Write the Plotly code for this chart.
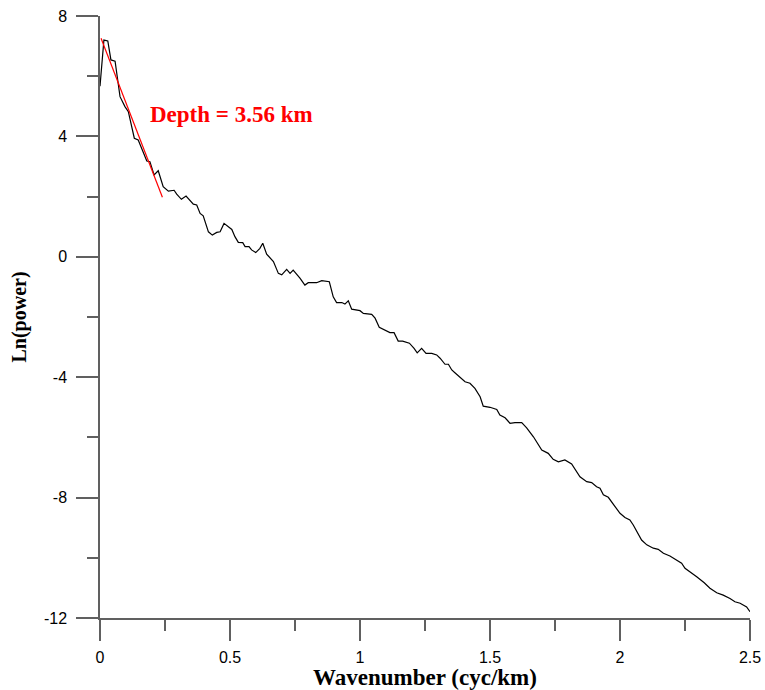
import plotly.graph_objects as go

wavenumber = [0.000, 0.015, 0.030, 0.042, 0.058, 0.070, 0.077, 0.096, 0.109, 0.132,
              0.147, 0.180, 0.192, 0.208, 0.224, 0.243, 0.263, 0.285, 0.295, 0.313,
              0.331, 0.359, 0.372, 0.385, 0.397, 0.417, 0.432, 0.449, 0.462, 0.477,
              0.507, 0.519, 0.532, 0.549, 0.558, 0.573, 0.583, 0.599, 0.615, 0.626,
              0.641, 0.667, 0.686, 0.699, 0.718, 0.731, 0.743, 0.769, 0.788, 0.801,
              0.833, 0.853, 0.882, 0.897, 0.910, 0.930, 0.942, 0.955, 0.968, 1.000,
              1.013, 1.045, 1.058, 1.074, 1.103, 1.115, 1.131, 1.147, 1.164, 1.190,
              1.208, 1.220, 1.237, 1.254, 1.276, 1.295, 1.308, 1.327, 1.340, 1.353,
              1.365, 1.385, 1.404, 1.423, 1.442, 1.462, 1.474, 1.500, 1.526, 1.538,
              1.558, 1.577, 1.596, 1.622, 1.641, 1.667, 1.699, 1.724, 1.743, 1.763,
              1.788, 1.814, 1.846, 1.872, 1.891, 1.910, 1.923, 1.936, 1.955, 1.981,
              2.000, 2.019, 2.038, 2.051, 2.064, 2.083, 2.103, 2.128, 2.147, 2.167,
              2.192, 2.218, 2.237, 2.250, 2.269, 2.295, 2.324, 2.346, 2.372, 2.397,
              2.423, 2.442, 2.462, 2.487, 2.500]

ln_power = [5.67, 7.20, 7.17, 6.54, 6.50, 5.65, 5.32, 4.99, 4.82, 3.94,
            3.88, 3.18, 3.16, 2.72, 2.86, 2.33, 2.18, 2.21, 2.08, 1.91,
            2.02, 1.75, 1.72, 1.44, 1.36, 0.83, 0.72, 0.81, 0.83, 1.11,
            0.91, 0.67, 0.48, 0.47, 0.34, 0.34, 0.23, 0.14, 0.28, 0.45,
            0.09, -0.16, -0.55, -0.60, -0.42, -0.55, -0.44, -0.71, -0.94, -0.86,
            -0.86, -0.79, -0.83, -1.33, -1.52, -1.52, -1.57, -1.46, -1.74, -1.79,
            -1.88, -1.91, -2.04, -2.34, -2.45, -2.52, -2.52, -2.80, -2.80, -2.87,
            -3.04, -3.19, -3.04, -3.21, -3.21, -3.26, -3.37, -3.57, -3.57, -3.76,
            -3.85, -4.02, -4.15, -4.20, -4.37, -4.65, -4.96, -5.00, -5.07, -5.26,
            -5.35, -5.53, -5.51, -5.51, -5.68, -5.98, -6.42, -6.53, -6.73, -6.81,
            -6.75, -6.88, -7.31, -7.47, -7.50, -7.64, -7.69, -7.91, -7.99, -8.30,
            -8.52, -8.66, -8.74, -8.91, -9.13, -9.41, -9.57, -9.68, -9.72, -9.85,
            -9.94, -10.07, -10.18, -10.35, -10.46, -10.63, -10.83, -11.01, -11.16, -11.24,
            -11.35, -11.46, -11.51, -11.63, -11.79]

fit_x = [0.004, 0.240]
fit_y = [7.26, 1.98]

depth_label = "Depth = 3.56 km"
x_title = "Wavenumber (cyc/km)"
y_title = "Ln(power)"
x_tickvals = [0, 0.5, 1, 1.5, 2, 2.5]
x_ticktext = ["0", "0.5", "1", "1.5", "2", "2.5"]
y_tickvals = [8, 4, 0, -4, -8, -12]
y_ticktext = ["8", "4", "0", "-4", "-8", "-12"]

axis_color = "#606060"
serif = "Liberation Serif, Times New Roman, serif"
sans = "Liberation Sans, Arial, sans-serif"

fig = go.Figure()
fig.add_trace(go.Scatter(x=wavenumber, y=ln_power, mode="lines",
                         line=dict(color="black", width=1.2), showlegend=False))
fig.add_trace(go.Scatter(x=fit_x, y=fit_y, mode="lines",
                         line=dict(color="red", width=1.2), showlegend=False))

fig.add_annotation(x=0.185, y=4.74, xref="x", yref="y", text="<b>" + depth_label + "</b>",
                   showarrow=False, xanchor="left", yanchor="middle",
                   font=dict(family=serif, size=23, color="red"))

fig.update_xaxes(range=[0, 2.5], tickmode="array", tickvals=x_tickvals, ticktext=x_ticktext,
                 showgrid=False, zeroline=False, showline=True, linecolor=axis_color, linewidth=1.5,
                 ticks="outside", ticklen=21, tickwidth=1.5, tickcolor=axis_color,
                 minor=dict(dtick=0.25, tick0=0, ticks="outside", ticklen=11, tickwidth=1.5,
                            tickcolor=axis_color, showgrid=False),
                 tickfont=dict(family=sans, size=16, color="black"),
                 ticklabelstandoff=3, ticklabeloverflow="allow",
                 title=dict(text="<b>" + x_title + "</b>", standoff=2,
                            font=dict(family=serif, size=23, color="black")))

fig.update_yaxes(range=[-12, 8], tickmode="array", tickvals=y_tickvals, ticktext=y_ticktext,
                 showgrid=False, zeroline=False, showline=True, linecolor=axis_color, linewidth=1.5,
                 ticks="outside", ticklen=22, tickwidth=1.5, tickcolor=axis_color,
                 minor=dict(dtick=2, tick0=0, ticks="outside", ticklen=11, tickwidth=1.5,
                            tickcolor=axis_color, showgrid=False),
                 tickfont=dict(family=sans, size=16, color="black"),
                 ticklabelstandoff=6, ticklabeloverflow="allow",
                 title=dict(text="<b>" + y_title + "</b>", standoff=12,
                            font=dict(family=serif, size=20, color="black")))

fig.update_layout(width=765, height=690, paper_bgcolor="white", plot_bgcolor="white",
                  margin=dict(l=100, r=15, t=16, b=72, autoexpand=False))

fig.write_html("out.html", config={"displayModeBar": False},
               post_script="document.body.style.margin='0px';document.body.style.overflow='hidden';")
